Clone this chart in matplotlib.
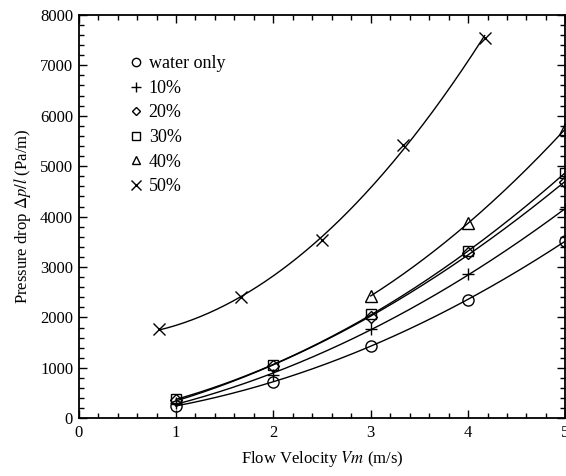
import numpy as np
import matplotlib
matplotlib.use("Agg")
import matplotlib.pyplot as plt
from matplotlib.lines import Line2D
from matplotlib.ticker import MultipleLocator

plt.rcParams['font.family'] = ['Liberation Serif', 'DejaVu Serif']
plt.rcParams['mathtext.fontset'] = 'stix'

labels = ['water only', '10%', '20%', '30%', '40%', '50%']
markers = ['o', '+', 'D', 's', '^', 'x']
x_water = [1, 2, 3, 4, 5]
y_water = [244, 726, 1440, 2347, 3520]
x_10 = [1, 2, 3, 4, 5]
y_10 = [298, 859, 1766, 2869, 4147]
x_20 = [1, 2, 3, 4, 5]
y_20 = [363, 1030, 2016, 3286, 4683]
x_30 = [1, 2, 3, 4, 5]
y_30 = [383, 1050, 2063, 3319, 4870]
x_40 = [3, 4, 5]
y_40 = [2427, 3869, 5740]
x_50 = [0.83, 1.67, 2.5, 3.33, 4.17]
y_50 = [1772, 2400, 3540, 5420, 7550]

series = [(x_water, y_water), (x_10, y_10), (x_20, y_20),
          (x_30, y_30), (x_40, y_40), (x_50, y_50)]
msizes = [8, 9, 6, 7, 8, 9]

fig = plt.figure(figsize=(5.66, 4.76), dpi=100)
ax = fig.add_axes([0.139, 0.1212, 0.860, 0.8475])

for (xs, ys), m, ms in zip(series, markers, msizes):
    xs = np.array(xs, float)
    ys = np.array(ys, float)
    c = np.polyfit(xs, ys, 2)
    xx = np.linspace(xs.min(), xs.max(), 200)
    ax.plot(xx, np.polyval(c, xx), color='black', lw=1.0)
    ax.plot(xs, ys, linestyle='none', marker=m, ms=ms, mfc='none',
            mec='black', mew=1.0, clip_on=False)

ax.set_xlim(0, 5)
ax.set_ylim(0, 8000)
ax.xaxis.set_major_locator(MultipleLocator(1))
ax.xaxis.set_minor_locator(MultipleLocator(0.2))
ax.yaxis.set_major_locator(MultipleLocator(1000))
ax.yaxis.set_minor_locator(MultipleLocator(200))
ax.tick_params(which='both', direction='in', top=True, right=True,
               labelsize=12, width=1.0)
ax.tick_params(which='major', length=6)
ax.tick_params(which='minor', length=3.5)
ax.tick_params(axis='x', which='major', pad=5)
ax.tick_params(axis='y', which='major', pad=4)
for s in ax.spines.values():
    s.set_linewidth(1.3)

ax.set_xlabel(r'Flow Velocity $Vm$ (m/s)', fontsize=12, labelpad=5.5)
ax.set_ylabel(r'Pressure drop $\Delta p/l$ (Pa/m)', fontsize=12, labelpad=5)

handles = [Line2D([], [], linestyle='none', marker=m, ms=ms * 0.75,
                  mfc='none', mec='black', mew=1.0)
           for m, ms in zip(markers, msizes)]
ax.legend(handles, labels, loc='upper left', bbox_to_anchor=(0.103, 0.90),
          frameon=False, fontsize=13, handlelength=0.8, handletextpad=0.3,
          labelspacing=0.42, borderpad=0, borderaxespad=0)

fig.savefig('out.png', dpi=100)
